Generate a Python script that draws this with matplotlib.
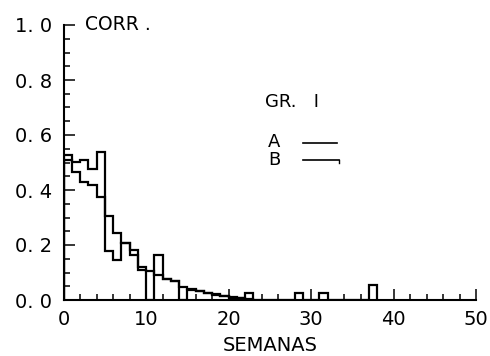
import matplotlib
matplotlib.use("Agg")
import matplotlib.pyplot as plt
import numpy as np

# Weekly correlation values (bin k covers week k..k+1)
series_A = [0.527, 0.503, 0.51, 0.475, 0.54, 0.177, 0.145, 0.206, 0.164, 0.108,
            0.0, 0.164, 0.078, 0.068, 0.0, 0.037, 0.031, 0.025, 0.02, 0.014,
            0.006, 0.006, 0.024, 0.0, 0.0, 0.0, 0.0, 0.0, 0.027, 0.0,
            0.0, 0.027, 0.0, 0.0, 0.0, 0.0, 0.0, 0.053]
series_B = [0.51, 0.465, 0.43, 0.42, 0.373, 0.305, 0.243, 0.207, 0.181, 0.121,
            0.104, 0.09, 0.078, 0.068, 0.046, 0.04, 0.033, 0.027, 0.021, 0.015,
            0.01, 0.006, 0.004]
x_ticks = [0, 10, 20, 30, 40, 50]
x_labels = ["0", "10", "20", "30", "40", "50"]
y_ticks = [0.0, 0.2, 0.4, 0.6, 0.8, 1.0]
y_labels = ["0. 0", "0. 2", "0. 4", "0. 6", "0. 8", "1. 0"]

plt.rcParams['font.family'] = ['DejaVu Sans']

W, H = 490, 356
fig = plt.figure(figsize=(W / 100, H / 100), dpi=100)
x0, x1 = 63.5, 476
y0, y1 = 300, 25
ax = fig.add_axes([x0 / W, (H - y0) / H, (x1 - x0) / W, (y0 - y1) / H])
ax.set_xlim(0, 50)
ax.set_ylim(0, 1.0)

lw = 1.6
ax.stairs(series_A, np.arange(len(series_A) + 1), color='black', lw=lw, baseline=0)
ax.stairs(series_B, np.arange(len(series_B) + 1), color='black', lw=lw, baseline=0)

for s in ['top', 'right']:
    ax.spines[s].set_visible(False)
for s in ['left', 'bottom']:
    ax.spines[s].set_linewidth(1.5)
    ax.spines[s].set_clip_on(False)

ax.set_xticks(x_ticks)
ax.set_xticklabels(x_labels)
ax.set_xticks(np.arange(0, 51, 2), minor=True)
ax.set_yticks(y_ticks)
ax.set_yticklabels(y_labels)
ax.set_yticks(np.arange(0, 1.001, 0.05), minor=True)
ax.tick_params(which='both', direction='in', width=1.1, color='black')
ax.tick_params(which='major', length=8)
ax.tick_params(which='minor', length=4.5)
ax.tick_params(axis='y', which='major', pad=8, labelsize=14)
ax.tick_params(axis='x', which='major', pad=7, labelsize=14)

ax.text(2.6, 1.0, "CORR .", fontsize=13.5, va='center', ha='left', clip_on=False)
ax.set_xlabel("SEMANAS", fontsize=14, labelpad=5)

# legend drawn as in the original
ax.text(24.4, 0.721, "GR.   I", fontsize=13, va='center', ha='left')
ax.text(24.8, 0.576, "A", fontsize=13, va='center', ha='left')
ax.text(24.8, 0.509, "B", fontsize=13, va='center', ha='left')
ax.plot([29.0, 33.2], [0.572, 0.572], color='black', lw=1.2)
ax.plot([29.0, 33.4], [0.509, 0.509], color='black', lw=1.2)
ax.plot([33.4, 33.4], [0.509, 0.499], color='black', lw=1.0)

fig.savefig("out.png", dpi=100, facecolor='white')
